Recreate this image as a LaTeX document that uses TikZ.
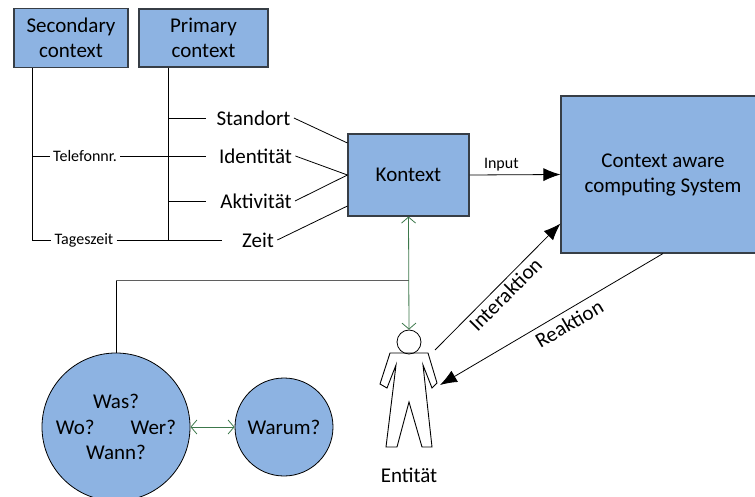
\documentclass[tikz,border=0pt]{standalone}
\usepackage{fontspec}
\setmainfont{Carlito}
\usepackage{xcolor}
\usetikzlibrary{arrows.meta}
\usetikzlibrary{positioning}
\definecolor{boxblue}{RGB}{141,179,226}
\definecolor{boxedge}{RGB}{55,62,70}
\definecolor{arrgreen}{RGB}{60,120,75}
\definecolor{linegray}{RGB}{95,95,95}

\begin{document}
\begin{tikzpicture}[x=1pt,y=-1pt,line width=0.8pt,
	box/.style={draw=boxedge,fill=boxblue,rectangle,line width=1.1pt,align=center,font=\fontsize{21}{25}\selectfont},
	big/.style={inner sep=3pt,font=\fontsize{21}{25}\selectfont},
	small/.style={inner sep=3pt,font=\fontsize{16}{19}\selectfont},
	bigtip/.style={-{Latex[length=17pt,width=13pt]}},
	gtip/.style={arrgreen,{Straight Barb[length=6pt,width=14pt]}-{Straight Barb[length=6pt,width=14pt]}}]
		\useasboundingbox (0,0) rectangle (755,497);

		% draw context boxes
		\node (SC) at (71,38) [box,minimum width=114,minimum height=59] {Secondary\\context};
		\node (PC) at (203.5,38) [box,minimum width=129,minimum height=58] {Primary\\context};
		\coordinate (sline) at ([xshift=19pt]SC.south west);
		\coordinate (pline) at ([xshift=30pt]PC.south west);

		% draw context labels
		\node (sd) at (253.5,118) [big] {Standort};
		\node (id) at (255.5,156) [big] {Identität};
		\node (ak) at (256,201) [big] {Aktivität};
		\node (zt) at (258,240) [big] {Zeit};
		\node (tel) at (85,156) [small] {Telefonnr.};
		\node (tg) at (84,240) [small] {Tageszeit};

		% draw tree lines
		\draw (sline) |- (tg.west);
		\draw (tel.west) -- (sline |- tel.west);
		\draw (pline) -- (pline |- zt.west);
		\draw (pline |- sd.west) -- ([xshift=-7pt]sd.west);
		\draw (tel.east) -- ([xshift=-10pt]id.west);
		\draw (pline |- ak.west) -- ([xshift=-11pt]ak.west);
		\draw (tg.east) -- ([xshift=-17pt]zt.west);

		% draw Kontext and system
		\node (KO) at (408.5,175) [box,minimum width=121,minimum height=82] {Kontext};
		\node (CA) at (663,174.5) [box,minimum width=204,minimum height=157] {Context aware\\computing System};

		% draw lines from labels to Kontext
		\draw (sd.east) -- ([yshift=32pt]KO.west);
		\draw (id.east) -- (KO.west);
		\draw (ak.east) -- (KO.west);
		\draw (zt.east) -- ([yshift=-31pt]KO.west);
		\draw[bigtip] (KO.east) -- (CA.west) node[small,pos=0.35,above] {Input};

		% draw person
		\node (head) at (409,342) [draw,circle,minimum size=24,inner sep=0pt] {};
		\draw[line width=0.9pt,shift={(409,342)}] (-19,11) -- (19,11) -- (28,41) -- (23,46) -- (14,23) -- (23,105) -- (13,105) -- (0,60) -- (-12,105) -- (-23,105) -- (-13,23) -- (-22,46) -- (-29,42) -- cycle;
		\node (ent) at (409,475) [big] {Entität};
		\coordinate (ia) at (435,350);
		\coordinate (ra) at (440,385);

		% draw interaction and reaction
		\draw[bigtip] (ia) -- ([yshift=30pt]CA.south west) node[big,midway,sloped,below] {Interaktion};
		\draw[{Latex[length=17pt,width=13pt]}-] (ra) -- (CA.south) node[big,pos=0.55,sloped,below=2pt] {Reaktion};

		% draw questions
		\node (Q) at (116,427) [draw,circle,fill=boxblue,minimum size=148,align=center,font=\fontsize{21}{25.5}\selectfont] {Was?\\Wo?\hspace{36pt}Wer?\\Wann?};
		\node (W) at (284,427) [draw,circle,fill=boxblue,minimum size=98,big] {Warum?};
		\coordinate (jn) at (KO.south |- 0,280);
		\draw (Q.north) -- (Q.north |- jn);
		\draw[linegray] (Q.north |- jn) -- (jn);
		\draw[gtip] (KO.south) -- (head.north);
		\draw[gtip] (Q.east) -- (W.west);
\end{tikzpicture}
\end{document}
